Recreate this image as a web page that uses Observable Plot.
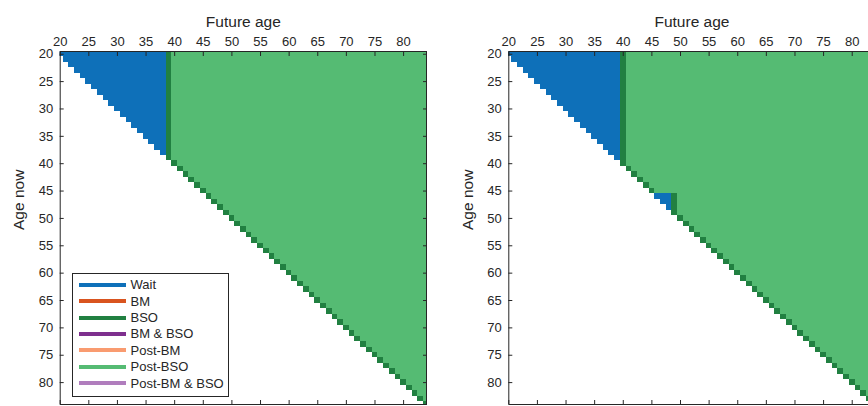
<!DOCTYPE html>
<html><head><meta charset="utf-8">
<script src="https://cdn.jsdelivr.net/npm/d3@7"></script>
<script src="https://cdn.jsdelivr.net/npm/@observablehq/plot@0.6"></script>
<style>
html,body{margin:0;padding:0;background:#fff;overflow:hidden;width:868px;height:406px}
#wrap{position:relative;width:868px;height:406px;overflow:hidden;font-family:"Liberation Sans",Arial,sans-serif;color:#262626}
.panel{position:absolute;top:0}
.legend{position:absolute;left:71.5px;top:273px;width:157px;height:124px;border:1px solid #262626;background:#fff;box-sizing:border-box;font-size:13px;color:#262626}
.legend .row{position:absolute;left:6px;height:16px;display:flex;align-items:center;white-space:nowrap}
.legend .sw{width:47px;height:4px;margin-right:5px}
</style>
</head><body>
<div id="wrap"></div>
<script>
// ---- data ----
const ageNow = [20,21,22,23,24,25,26,27,28,29,30,31,32,33,34,35,36,37,38,39,40,41,42,43,44,45,46,47,48,49,50,51,52,53,54,55,56,57,58,59,60,61,62,63,64,65,66,67,68,69,70,71,72,73,74,75,76,77,78,79,80,81,82,83,84];
// future age at which BSO is taken, for each "age now" row
const bsoAgeLeft = [39,39,39,39,39,39,39,39,39,39,39,39,39,39,39,39,39,39,39,39,40,41,42,43,44,45,46,47,48,49,50,51,52,53,54,55,56,57,58,59,60,61,62,63,64,65,66,67,68,69,70,71,72,73,74,75,76,77,78,79,80,81,82,83,84];
const bsoAgeRight = [40,40,40,40,40,40,40,40,40,40,40,40,40,40,40,40,40,40,40,40,40,41,42,43,44,45,49,49,49,49,50,51,52,53,54,55,56,57,58,59,60,61,62,63,64,65,66,67,68,69,70,71,72,73,74,75,76,77,78,79,80,81,82,83,84];
const xTicks = [20,25,30,35,40,45,50,55,60,65,70,75,80];
const yTicks = [20,25,30,35,40,45,50,55,60,65,70,75,80];
const categories = ["Wait","BM","BSO","BM & BSO","Post-BM","Post-BSO","Post-BM & BSO"];
const colors = ["#0e70b9","#d9541f","#218041","#7e2f8e","#f99b70","#55bb73","#b07dbd"];
const maxAge = 84;

function cells(bso){
  const out = [];
  ageNow.forEach((a,i)=>{
    const b = bso[i];
    if (b > a) out.push({cat:"Wait", x1:a-0.5, x2:b-0.5, y1:a-0.5, y2:a+0.5});
    out.push({cat:"BSO", x1:b-0.5, x2:b+0.5, y1:a-0.5, y2:a+0.5});
    out.push({cat:"Post-BSO", x1:b+0.5, x2:maxAge+0.5, y1:a-0.5, y2:a+0.5});
  });
  return out;
}

function panel(bso, ml, mr){
  return Plot.plot({
    width:440, height:406, marginLeft:ml, marginRight:mr, marginTop:51, marginBottom:2,
    style:{fontFamily:'"Liberation Sans",Arial,sans-serif', color:"#262626", background:"transparent"},
    x:{domain:[20,84], axis:null},
    y:{domain:[19.5,84], reverse:true, axis:null},
    color:{domain:categories, range:colors},
    marks:[
      Plot.rect(cells(bso), {x1:"x1", x2:"x2", y1:"y1", y2:"y2", fill:"cat", shapeRendering:"crispEdges", clip:true}),
      Plot.axisX({anchor:"top", ticks:xTicks, tickSize:0, tickPadding:6, fontSize:13, label:null}),
      Plot.axisX({anchor:"top", ticks:xTicks, tickSize:-4, text:null, label:null}),
      Plot.axisX({anchor:"bottom", ticks:xTicks, tickSize:-4, text:null, label:null}),
      Plot.axisY({anchor:"left", ticks:yTicks, tickSize:0, tickPadding:7, fontSize:13, label:null}),
      Plot.axisY({anchor:"left", ticks:yTicks, tickSize:-4, text:null, label:null}),
      Plot.axisY({anchor:"right", ticks:yTicks, tickSize:-4, text:null, label:null}),
      Plot.frame({stroke:"#262626"}),
      Plot.text(["Future age"], {text:d=>d, frameAnchor:"top", dy:-36, fontSize:15.5, fill:"#262626"}),
      Plot.text(["Age now"], {text:d=>d, frameAnchor:"left", rotate:-90, dx:-41, dy:2, fontSize:15.5, fill:"#262626"})
    ]
  });
}

const wrap = document.getElementById("wrap");
const p1 = panel(bsoAgeLeft, 59.7, 14);
p1.classList.add("panel"); p1.style.left = "0px";
wrap.appendChild(p1);
const p2 = panel(bsoAgeRight, 68.3, 5.4);
p2.classList.add("panel"); p2.style.left = "440px";
wrap.appendChild(p2);

// legend
const leg = document.createElement("div");
leg.className = "legend";
categories.forEach((c,i)=>{
  const r = document.createElement("div");
  r.className = "row";
  r.style.top = (2.7 + 16.4*i) + "px";
  const sw = document.createElement("div");
  sw.className = "sw"; sw.style.background = colors[i];
  const t = document.createElement("span"); t.textContent = c;
  r.appendChild(sw); r.appendChild(t);
  leg.appendChild(r);
});
wrap.appendChild(leg);
</script>
</body></html>
